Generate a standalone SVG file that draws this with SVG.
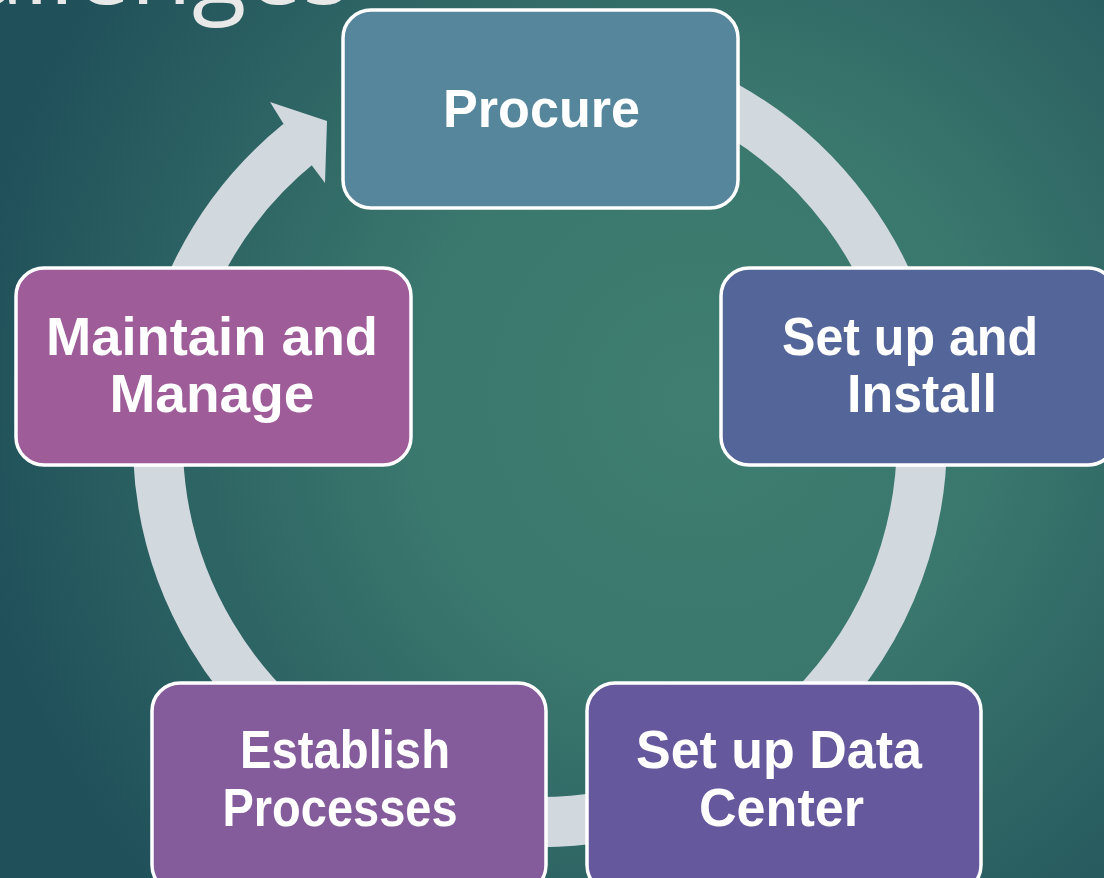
<svg xmlns="http://www.w3.org/2000/svg" width="1104" height="878" viewBox="0 0 1104 878">
<defs>
<radialGradient id="bg" cx="700" cy="400" r="740" gradientUnits="userSpaceOnUse">
<stop offset="0" stop-color="#3F7E71"/>
<stop offset="0.4" stop-color="#3A776D"/>
<stop offset="1" stop-color="#20505A"/>
</radialGradient>
<style>
.box{stroke:#FFFFFF;stroke-width:3.5}
.lbl{font-family:"Liberation Sans",Arial,sans-serif;font-weight:bold;font-size:54px;fill:#FFFFFF;text-anchor:middle}
.ring{fill:none;stroke:#D1D8DE;stroke-width:50}
</style>
</defs>
<rect width="1104" height="878" fill="url(#bg)"/>
<text x="350" y="4" font-family="'Open Sans','Noto Sans',sans-serif" font-size="100" fill="#E8E8E8" text-anchor="end">Challenges</text>
<g id="connectors">
<path class="ring" d="M 299.3 143.2 A 382 382 0 1 0 540 58"/>
<polygon points="283,123 270,102 327,121 325,183 310,163" fill="#D1D8DE"/>
</g>
<g id="procure">
<rect class="box" x="343" y="10" width="395" height="198" rx="28" fill="#55869C"/>
<text class="lbl" x="541.5" y="127" textLength="197" lengthAdjust="spacingAndGlyphs">Procure</text>
</g>
<g id="setup-install">
<rect class="box" x="721" y="268" width="395" height="197" rx="28" fill="#546699"/>
<text class="lbl" x="910" y="355" textLength="256" lengthAdjust="spacingAndGlyphs">Set up and</text>
<text class="lbl" x="922" y="412" textLength="150" lengthAdjust="spacingAndGlyphs">Install</text>
</g>
<g id="setup-datacenter">
<rect class="box" x="587" y="683" width="394" height="210" rx="28" fill="#66589C"/>
<text class="lbl" x="779" y="768" textLength="286" lengthAdjust="spacingAndGlyphs">Set up Data</text>
<text class="lbl" x="781.5" y="826" textLength="165" lengthAdjust="spacingAndGlyphs">Center</text>
</g>
<g id="establish">
<rect class="box" x="152" y="683" width="394" height="210" rx="28" fill="#845C9C"/>
<text class="lbl" x="345" y="768" textLength="210" lengthAdjust="spacingAndGlyphs">Establish</text>
<text class="lbl" x="340" y="826" textLength="235" lengthAdjust="spacingAndGlyphs">Processes</text>
</g>
<g id="maintain">
<rect class="box" x="16" y="268" width="395" height="197" rx="28" fill="#9E5C99"/>
<text class="lbl" x="212" y="355" textLength="332" lengthAdjust="spacingAndGlyphs">Maintain and</text>
<text class="lbl" x="212" y="412" textLength="205" lengthAdjust="spacingAndGlyphs">Manage</text>
</g>
</svg>
